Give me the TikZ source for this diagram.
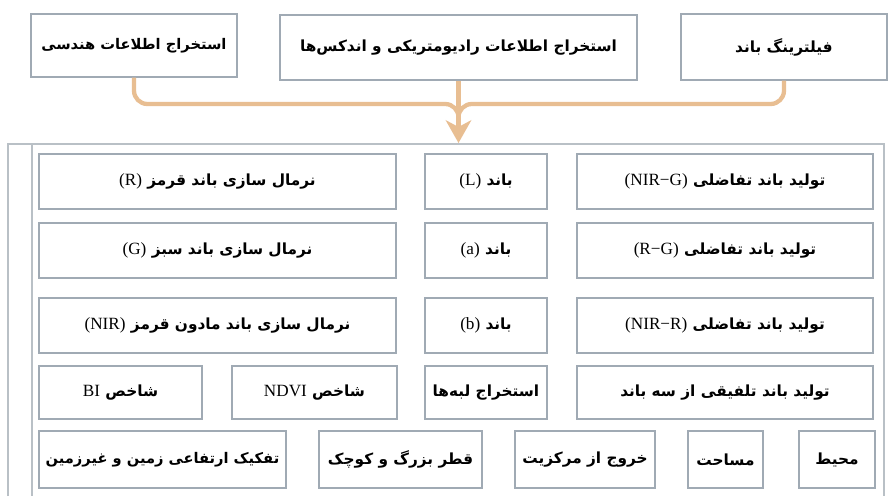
\documentclass[tikz,border=0pt]{standalone}
\usepackage{fontspec}
\usetikzlibrary{arrows.meta}
\TeXXeTstate=1
\newfontfamily\fa[Script=Arabic]{DejaVu Sans}
\newfontfamily\lat[Scale=1.12]{Liberation Serif}
\newcommand\rtl[1]{{\fa\bfseries\beginR#1\endR}}
\newcommand\ltr[1]{\beginL{\lat\mdseries #1}\endL}
\definecolor{boxline}{RGB}{160,170,180}
\definecolor{frameline}{RGB}{185,192,198}
\definecolor{tan}{RGB}{232,190,146}
\tikzset{
  box/.style={draw=boxline, line width=0.8pt, fill=white, inner sep=0pt, align=center,
    font=\fontsize{11.5}{13}\selectfont},
  smallbox/.style={box, font=\fontsize{11}{13}\selectfont},
  conn/.style={draw=tan, line width=3.2pt, rounded corners=10pt},
}
\begin{document}
\begin{tikzpicture}[x=0.75pt,y=-0.75pt]
\useasboundingbox (0,0) rectangle (895,496);
\fill[white] (0,0) rectangle (895,496);
% container
\draw[frameline, line width=1.2pt] (8,496) -- (8,144) -- (884,144) -- (884,496);
\draw[frameline, line width=1.2pt] (32,144) -- (32,496);
% top boxes
\node[smallbox, minimum width=154.5pt, minimum height=47.25pt] (T1) at (134,45.5) {\rtl{استخراج اطلاعات هندسی}};
\node[box, minimum width=267.75pt, minimum height=48.75pt] (T2) at (458.5,47.5) {\rtl{استخراج اطلاعات رادیومتریکی و اندکس‌ها}};
\node[box, minimum width=154.5pt, minimum height=49.5pt] (T3) at (784,47) {\rtl{فیلترینگ باند}};
% connectors
\coordinate (H) at (0,104);
\coordinate (J) at (458.5,120);
\coordinate (tip) at (458.5,143);
\draw[conn] (T1.south) -- (T1.south |- H) -- (J |- H) -- (J);
\draw[conn] (T3.south) -- (T3.south |- H) -- (J |- H) -- (J);
\draw[draw=tan, line width=3.2pt, -{Stealth[length=17pt,width=19pt,inset=5pt]}] (T2.south) -- (tip);
% row 1
\node[box, minimum width=267.75pt, minimum height=41.25pt] (L1) at (217.5,181.5) {\rtl{نرمال سازی باند قرمز \ltr{(R)}}};
\node[box, minimum width=91.5pt, minimum height=41.25pt] (M1) at (486,181.5) {\rtl{باند \ltr{(L)}}};
\node[box, minimum width=222pt, minimum height=41.25pt] (S1) at (725,181.5) {\rtl{تولید باند تفاضلی \ltr{(NIR−G)}}};
% row 2
\node[box, minimum width=267.75pt, minimum height=41.25pt] (L2) at (217.5,250.5) {\rtl{نرمال سازی باند سبز \ltr{(G)}}};
\node[box, minimum width=91.5pt, minimum height=41.25pt] (M2) at (486,250.5) {\rtl{باند \ltr{(a)}}};
\node[box, minimum width=222pt, minimum height=41.25pt] (S2) at (725,250.5) {\rtl{تولید باند تفاضلی \ltr{(R−G)}}};
% row 3
\node[box, minimum width=267.75pt, minimum height=41.25pt] (L3) at (217.5,325.5) {\rtl{نرمال سازی باند مادون قرمز \ltr{(NIR)}}};
\node[box, minimum width=91.5pt, minimum height=41.25pt] (M3) at (486,325.5) {\rtl{باند \ltr{(b)}}};
\node[box, minimum width=222pt, minimum height=41.25pt] (S3) at (725,325.5) {\rtl{تولید باند تفاضلی \ltr{(NIR−R)}}};
% row 4
\node[box, minimum width=122.25pt, minimum height=39.75pt] (BI) at (120.5,392.5) {\rtl{شاخص \ltr{BI}}};
\node[box, minimum width=123.75pt, minimum height=39.75pt] (ND) at (314.5,392.5) {\rtl{شاخص \ltr{NDVI}}};
\node[box, minimum width=91.5pt, minimum height=39.75pt] (ED) at (486,392.5) {\rtl{استخراج لبه‌ها}};
\node[box, minimum width=222pt, minimum height=39.75pt] (S4) at (725,392.5) {\rtl{تولید باند تلفیقی از سه باند}};
% row 5
\node[smallbox, minimum width=185.25pt, minimum height=42.75pt] (E1) at (162.5,459.5) {\rtl{تفکیک ارتفاعی زمین و غیرزمین}};
\node[box, minimum width=122.25pt, minimum height=42.75pt] (E2) at (400.5,459.5) {\rtl{قطر بزرگ و کوچک}};
\node[box, minimum width=105pt, minimum height=42.75pt] (E3) at (585,459.5) {\rtl{خروج از مرکزیت}};
\node[box, minimum width=56.25pt, minimum height=42.75pt] (E4) at (725.5,459.5) {\rtl{مساحت}};
\node[box, minimum width=57pt, minimum height=42.75pt] (E5) at (837,459.5) {\rtl{محیط}};
\end{tikzpicture}
\end{document}
